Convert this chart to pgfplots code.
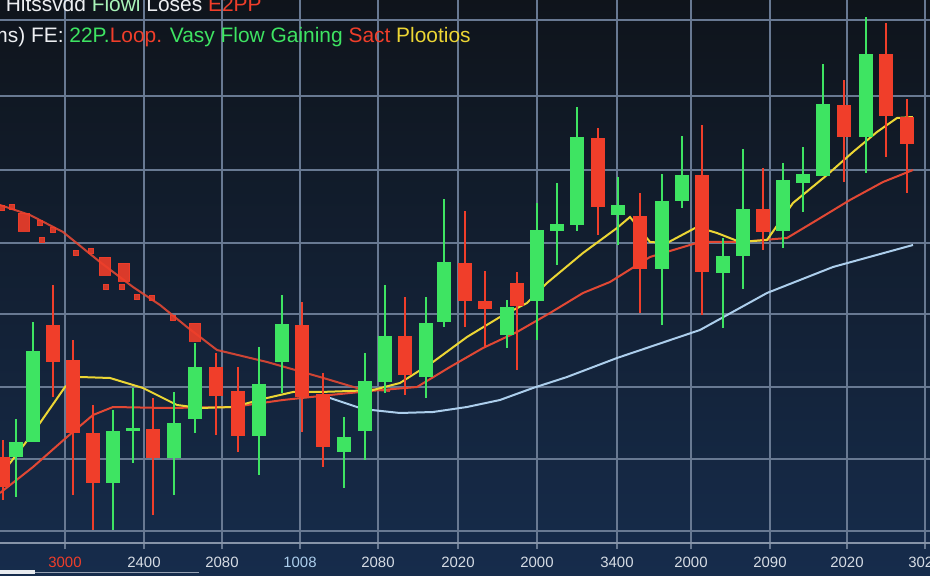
\documentclass[border=0pt]{standalone}
\usepackage{fontspec}
\setmainfont{Liberation Sans}
\usepackage{pgfplots}
\usepackage{pgfplotstable}
\pgfplotsset{compat=1.18}

\definecolor{bgtop}{RGB}{15,20,27}
\definecolor{bgmid}{RGB}{18,27,40}
\definecolor{bgbot}{RGB}{22,44,76}
\definecolor{gridc}{RGB}{104,121,146}
\definecolor{gc}{RGB}{62,228,98}
\definecolor{rc}{RGB}{240,62,42}
\definecolor{yc}{RGB}{236,214,52}
\definecolor{mac}{RGB}{226,72,52}
\definecolor{bc}{RGB}{172,206,236}
\definecolor{lblc}{RGB}{214,220,228}

% candles: x, open, high, low, close (price units, y grows upward)
\pgfplotstableread{
x o h l c
3 119 136 76 89
53 251 291 179 214
73 216 236 81 143
93 143 171 46 93
153 147 178 61 118
216 209 223 141 180
238 185 209 124 140
302 251 274 144 179
323 182 203 109 129
405 240 279 181 201
465 313 365 249 275
485 275 305 228 267
517 293 304 206 270
598 438 448 341 369
640 360 383 263 307
702 401 451 261 304
763 367 408 326 344
844 471 496 394 439
886 522 553 419 460
907 459 477 383 432
}\redcandles

\pgfplotstableread{
x o h l c
16 119 157 79 134
33 134 254 134 225
113 93 166 46 145
133 145 188 113 148
174 118 184 81 153
195 157 233 143 209
259 140 229 101 192
282 214 281 183 252
344 124 159 88 139
365 145 223 116 195
385 194 291 183 240
426 199 279 178 253
444 254 377 249 314
507 241 276 228 269
537 275 373 236 346
557 345 393 311 352
577 351 469 345 439
618 361 399 331 371
662 307 402 251 375
682 375 440 368 401
723 303 338 248 320
743 320 427 287 367
783 345 413 328 396
803 393 429 364 402
823 400 512 400 472
866 439 559 403 522
}\greencandles

\pgfplotsset{
  candle/.style 2 args={draw=none, mark=none, forget plot,
    error bars/.cd, y dir=both, y explicit,
    error mark=none,
    error bar style={draw=#1, line width=#2}},
}

\begin{document}
\begin{tikzpicture}
\shade[top color=bgtop, middle color=bgmid, bottom color=bgbot] (-1bp,-17.5bp) rectangle (466bp,272.5bp);
\begin{axis}[
    scale only axis,
    width=465bp, height=271.5bp,
    at={(0,0)}, anchor=south west,
    xmin=0, xmax=930,
    ymin=33, ymax=576,
    clip=false,
    axis line style={draw=none},
    xtick={65,144,222,300,378,458,537,617,691,770,847,925},
    xticklabels={\textcolor{rc}{3000},2400,2080,\textcolor{bc}{1008},2080,2020,2000,3400,2000,2090,2020,3020},
    ytick={45,117,189,262,333,406,480,556},
    yticklabels={},
    grid=major,
    grid style={gridc, line width=0.6bp},
    xtick pos=left,
    tick align=center,
    major tick length=6bp,
    xtick style={gridc, line width=0.8bp},
    ytick style={draw=none},
    xticklabel style={anchor=center, yshift=-6.5bp, font=\fontsize{7.5}{8}\selectfont, text=lblc},
]
% bottom axis line and scroll bar
\draw[gridc!80!white, line width=0.8bp] (axis cs:0,33) -- (axis cs:930,33);
\draw[gridc!70, line width=0.5bp] (axis cs:0,4) -- (axis cs:199,4);
\fill[white!85!gridc] (axis cs:0,2) rectangle (axis cs:35,6);

% falling red average with scattered blocks, upper left
\addplot[mac, line width=1bp, opacity=0.9] coordinates {
(0,371) (30,361) (63,344) (100,314) (133,289) (160,271) (187,249)
(217,226) (267,214) (320,199) (357,188) (390,185)};
\addplot[only marks, mark=square*, mark size=1.4bp, rc, opacity=0.85] coordinates {
(2,368) (12,369) (40,353) (42,336) (53,346) (76,323) (91,325)
(106,289) (122,289) (137,279) (152,278) (173,258)};
\addplot[only marks, mark=square*, mark size=4.5bp, mark options={xscale=0.65}, rc, opacity=0.9] coordinates {
(24,354) (105,310) (124,304) (195,244)};

% moving averages
\addplot[bc, line width=1bp] coordinates {
(330,178) (360,168) (372,166) (400,163) (433,164) (467,169) (500,176)
(533,188) (567,199) (617,218) (700,246) (767,283) (833,309) (913,331)};
\addplot[mac, line width=1bp] coordinates {
(0,83) (33,109) (67,139) (93,161) (113,169) (167,168) (233,169) (283,176)
(330,181) (370,185) (417,189) (450,209) (483,228) (517,244) (550,263)
(583,283) (610,294) (650,319) (700,334) (740,334) (787,338) (817,356)
(850,376) (883,394) (913,406)};
\addplot[yc, line width=1bp] coordinates {
(0,106) (7,109) (33,143) (65,189) (80,199) (110,198) (143,188) (177,171)
(200,168) (233,169) (267,178) (293,184) (320,184) (350,185) (373,186)
(400,193) (433,214) (467,239) (500,259) (527,273) (547,293) (583,323)
(617,348) (630,359) (650,334) (667,333) (697,349) (717,343) (740,334)
(767,336) (793,373) (827,401) (853,424) (877,444) (897,458) (913,459)};

% red candles: wicks then bodies
\addplot[candle={rc}{1bp}]
    table[x=x, y expr=(\thisrow{h}+\thisrow{l})/2,
          y error expr=(\thisrow{h}-\thisrow{l})/2] {\redcandles};
\addplot[candle={rc}{7bp}]
    table[x=x, y expr=(\thisrow{o}+\thisrow{c})/2,
          y error expr=abs(\thisrow{o}-\thisrow{c})/2] {\redcandles};
% green candles
\addplot[candle={gc}{1bp}]
    table[x=x, y expr=(\thisrow{h}+\thisrow{l})/2,
          y error expr=(\thisrow{h}-\thisrow{l})/2] {\greencandles};
\addplot[candle={gc}{7bp}]
    table[x=x, y expr=(\thisrow{o}+\thisrow{c})/2,
          y error expr=abs(\thisrow{o}-\thisrow{c})/2] {\greencandles};

% title lines, top left
\node[anchor=base east, inner sep=0pt, font=\fontsize{10.5}{12}\selectfont]
    at (axis cs:262,564) {\textcolor{white!88!gridc}{Hltssvdd} \textcolor{gc!45!white}{Flowi} \textcolor{white!88!gridc}{Loses} \textcolor{rc}{E2PP}};
\node[anchor=base west, inner sep=0pt, font=\fontsize{10.5}{12}\selectfont]
    at (axis cs:-10,533) {\textcolor{white!88!gridc}{ms) FE:} \textcolor{gc}{22P.}\textcolor{rc}{Loop.} \textcolor{gc}{Vasy Flow Gaining} \textcolor{rc}{Sact} \textcolor{yc}{Plootios}};
\end{axis}
\pgfresetboundingbox
\useasboundingbox (0,-16.5bp) rectangle (465bp,271.5bp);
\end{tikzpicture}
\end{document}
